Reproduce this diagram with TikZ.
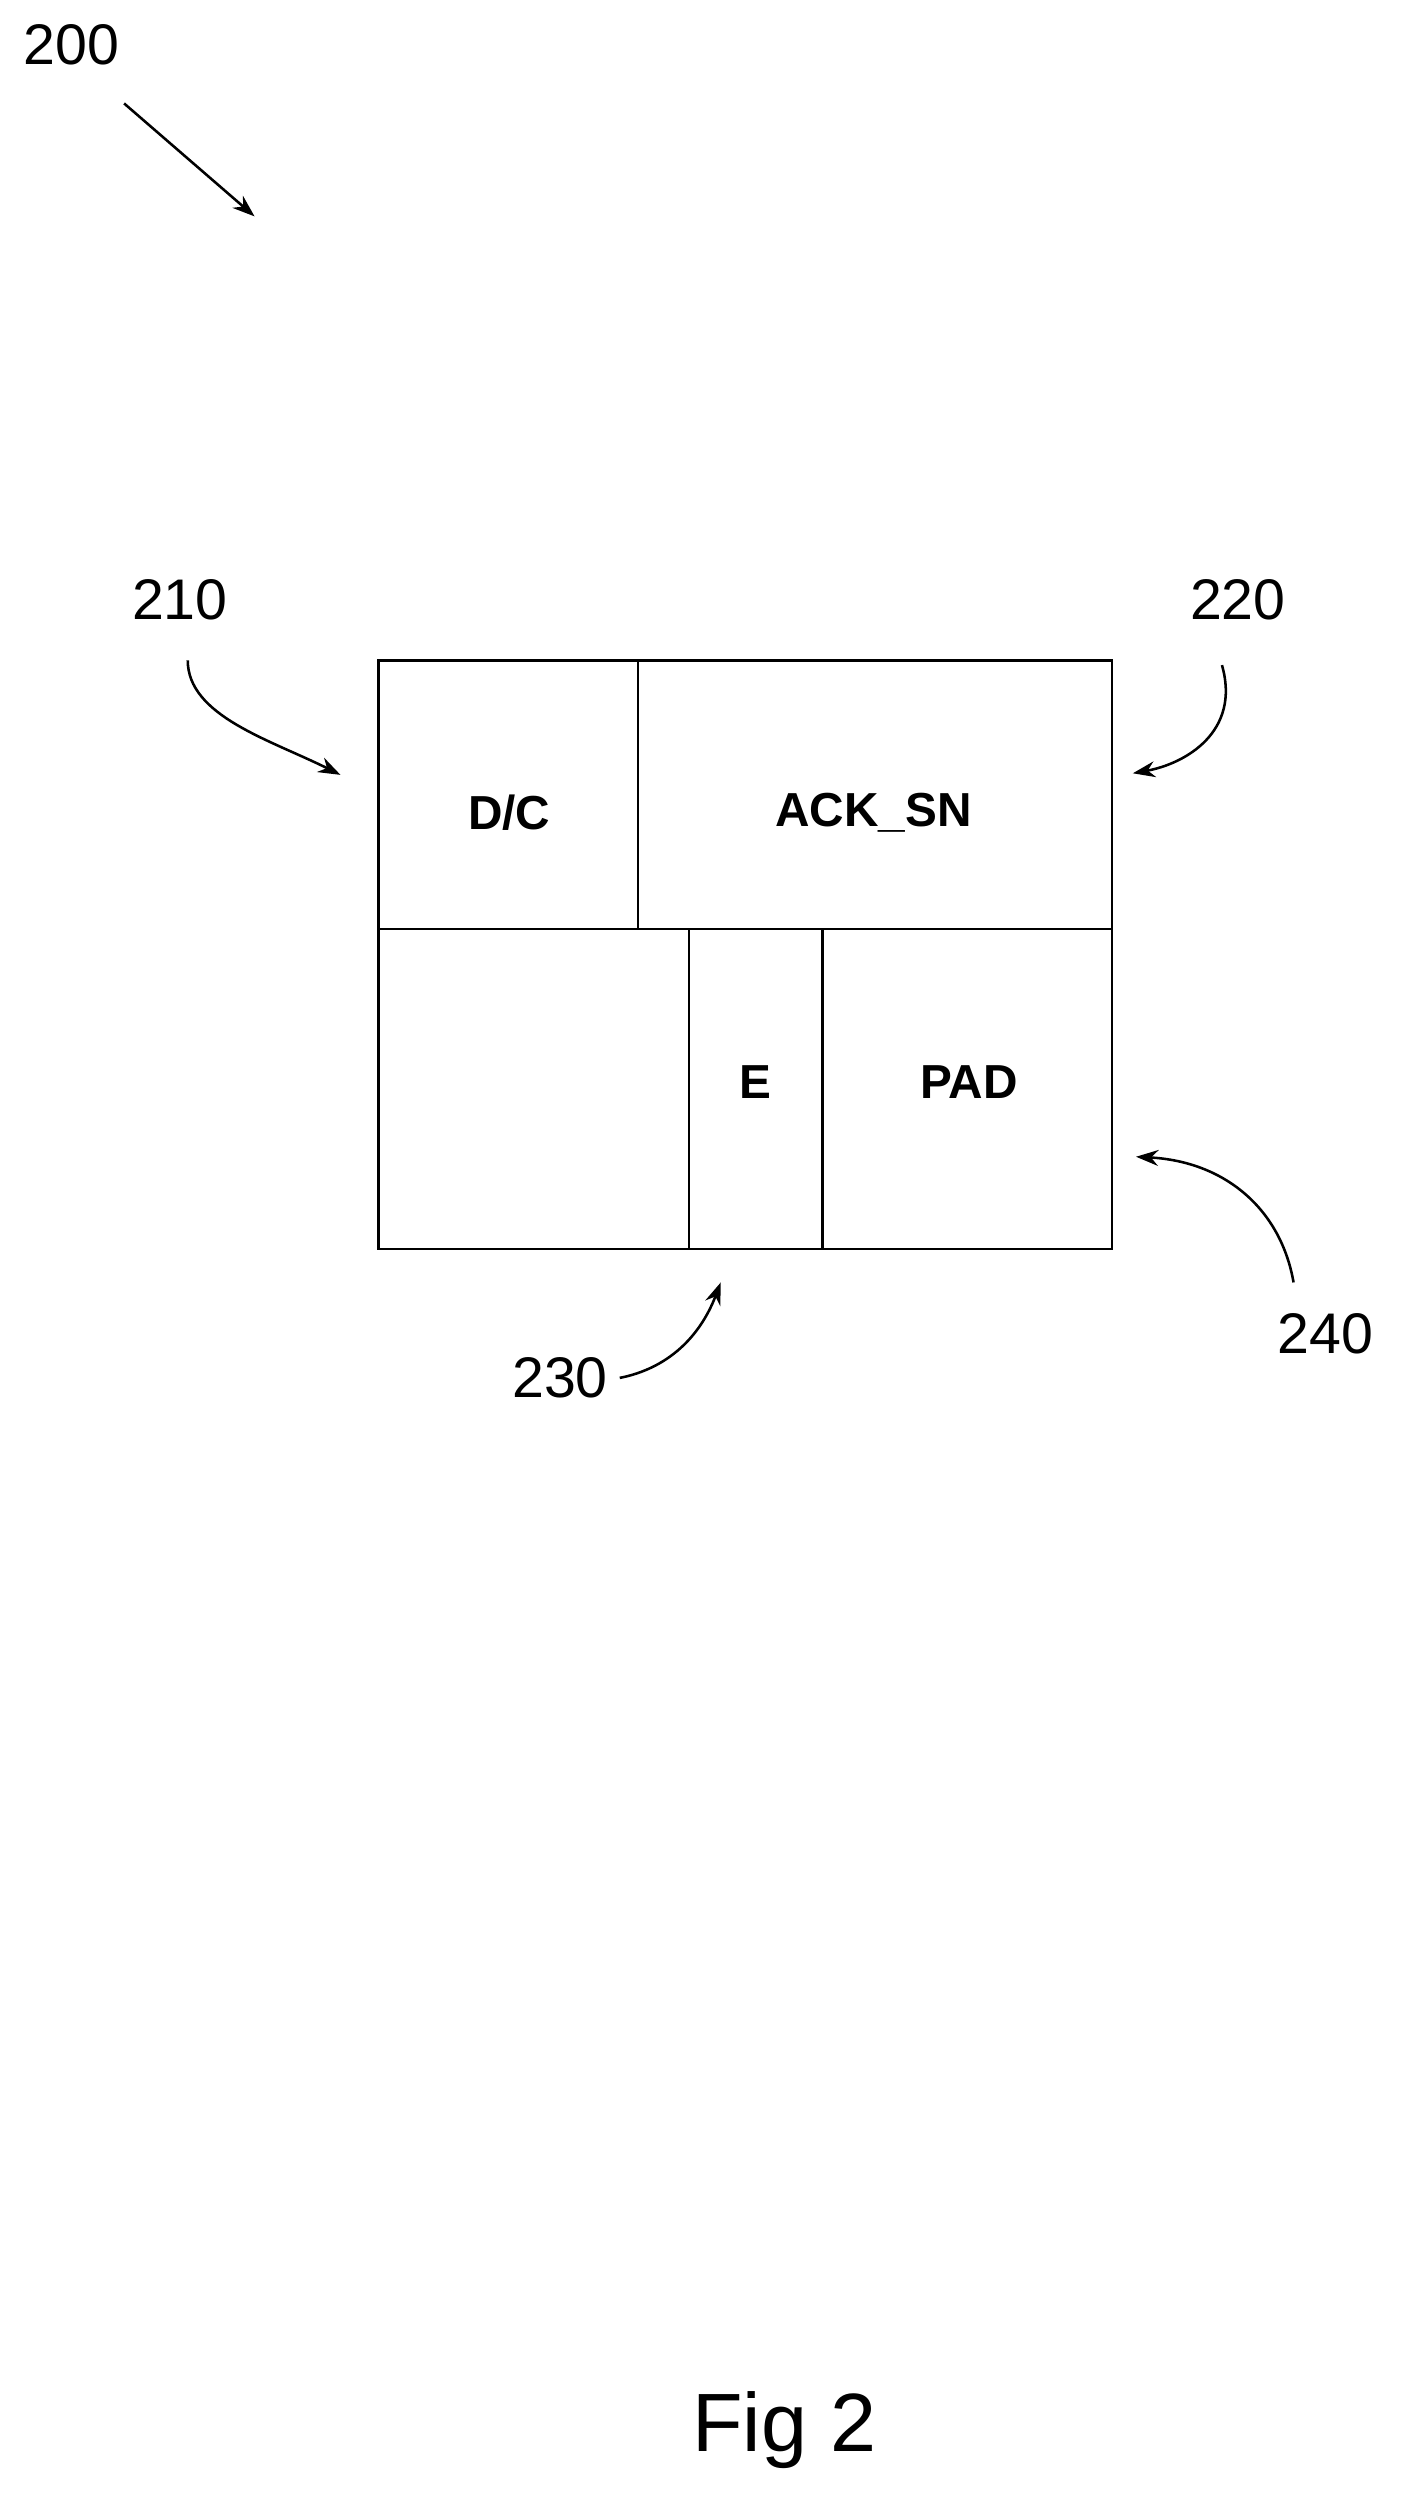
\documentclass[tikz,border=0pt]{standalone}
\usepackage{fontspec}
\setmainfont{Liberation Sans}
\usetikzlibrary{arrows.meta}
\tikzset{every picture/.style={line width=0.8pt}}
\tikzset{
  field/.style={font=\fontsize{15}{18}\selectfont\bfseries},
  refnum/.style={font=\fontsize{18}{22}\selectfont},
  pointer/.style={-{Stealth[length=7pt,width=5pt]}}
}
\begin{document}
\begin{tikzpicture}[x=0.5pt,y=0.5pt,yscale=-1,xscale=1]
\useasboundingbox (0,0) rectangle (880,1570);

%Frame
\draw (238,415) rectangle (699,785) ;
\draw (238,584) -- (699,584) ;
\draw (401,415) -- (401,584) ;
\draw (433,584) -- (433,785) ;
\draw (517,584) -- (517,785) ;

% Text Node
\node [field] (dc) at (320,511) {D/C};
\node [field] (acksn) at (549,511) {ACK\_SN};
\node [field] (e) at (475,680) {E};
\node [field] (pad) at (609,680) {PAD};

% Reference numbers
\node [refnum] (n200) at (45,28) {200};
\node [refnum] (n210) at (113,377) {210};
\node [refnum] (n220) at (778,377) {220};
\node [refnum] (n230) at (352,866) {230};
\node [refnum] (n240) at (833,838) {240};
\coordinate (t200) at (160,136);
\coordinate (t210) at (214,487);
\coordinate (t220) at (712,486);
\coordinate (t230) at (453,806);
\coordinate (t240) at (714,727);

%Arrows
\draw [pointer] (78,65) -- (t200) ;
\draw [pointer] (118,415) .. controls (118,450) and (170,465) .. (t210) ;
\draw [pointer] (768,418) .. controls (780,460) and (745,480) .. (t220) ;
\draw [pointer] (n230.east) .. controls (420,860) and (440,840) .. (t230) ;
\draw [pointer] (813,806) .. controls (805,760) and (770,730) .. (t240) ;

% Caption
\node [font=\fontsize{26}{30}\selectfont] (fig) at (493,1527) {Fig 2};
\end{tikzpicture}
\end{document}
